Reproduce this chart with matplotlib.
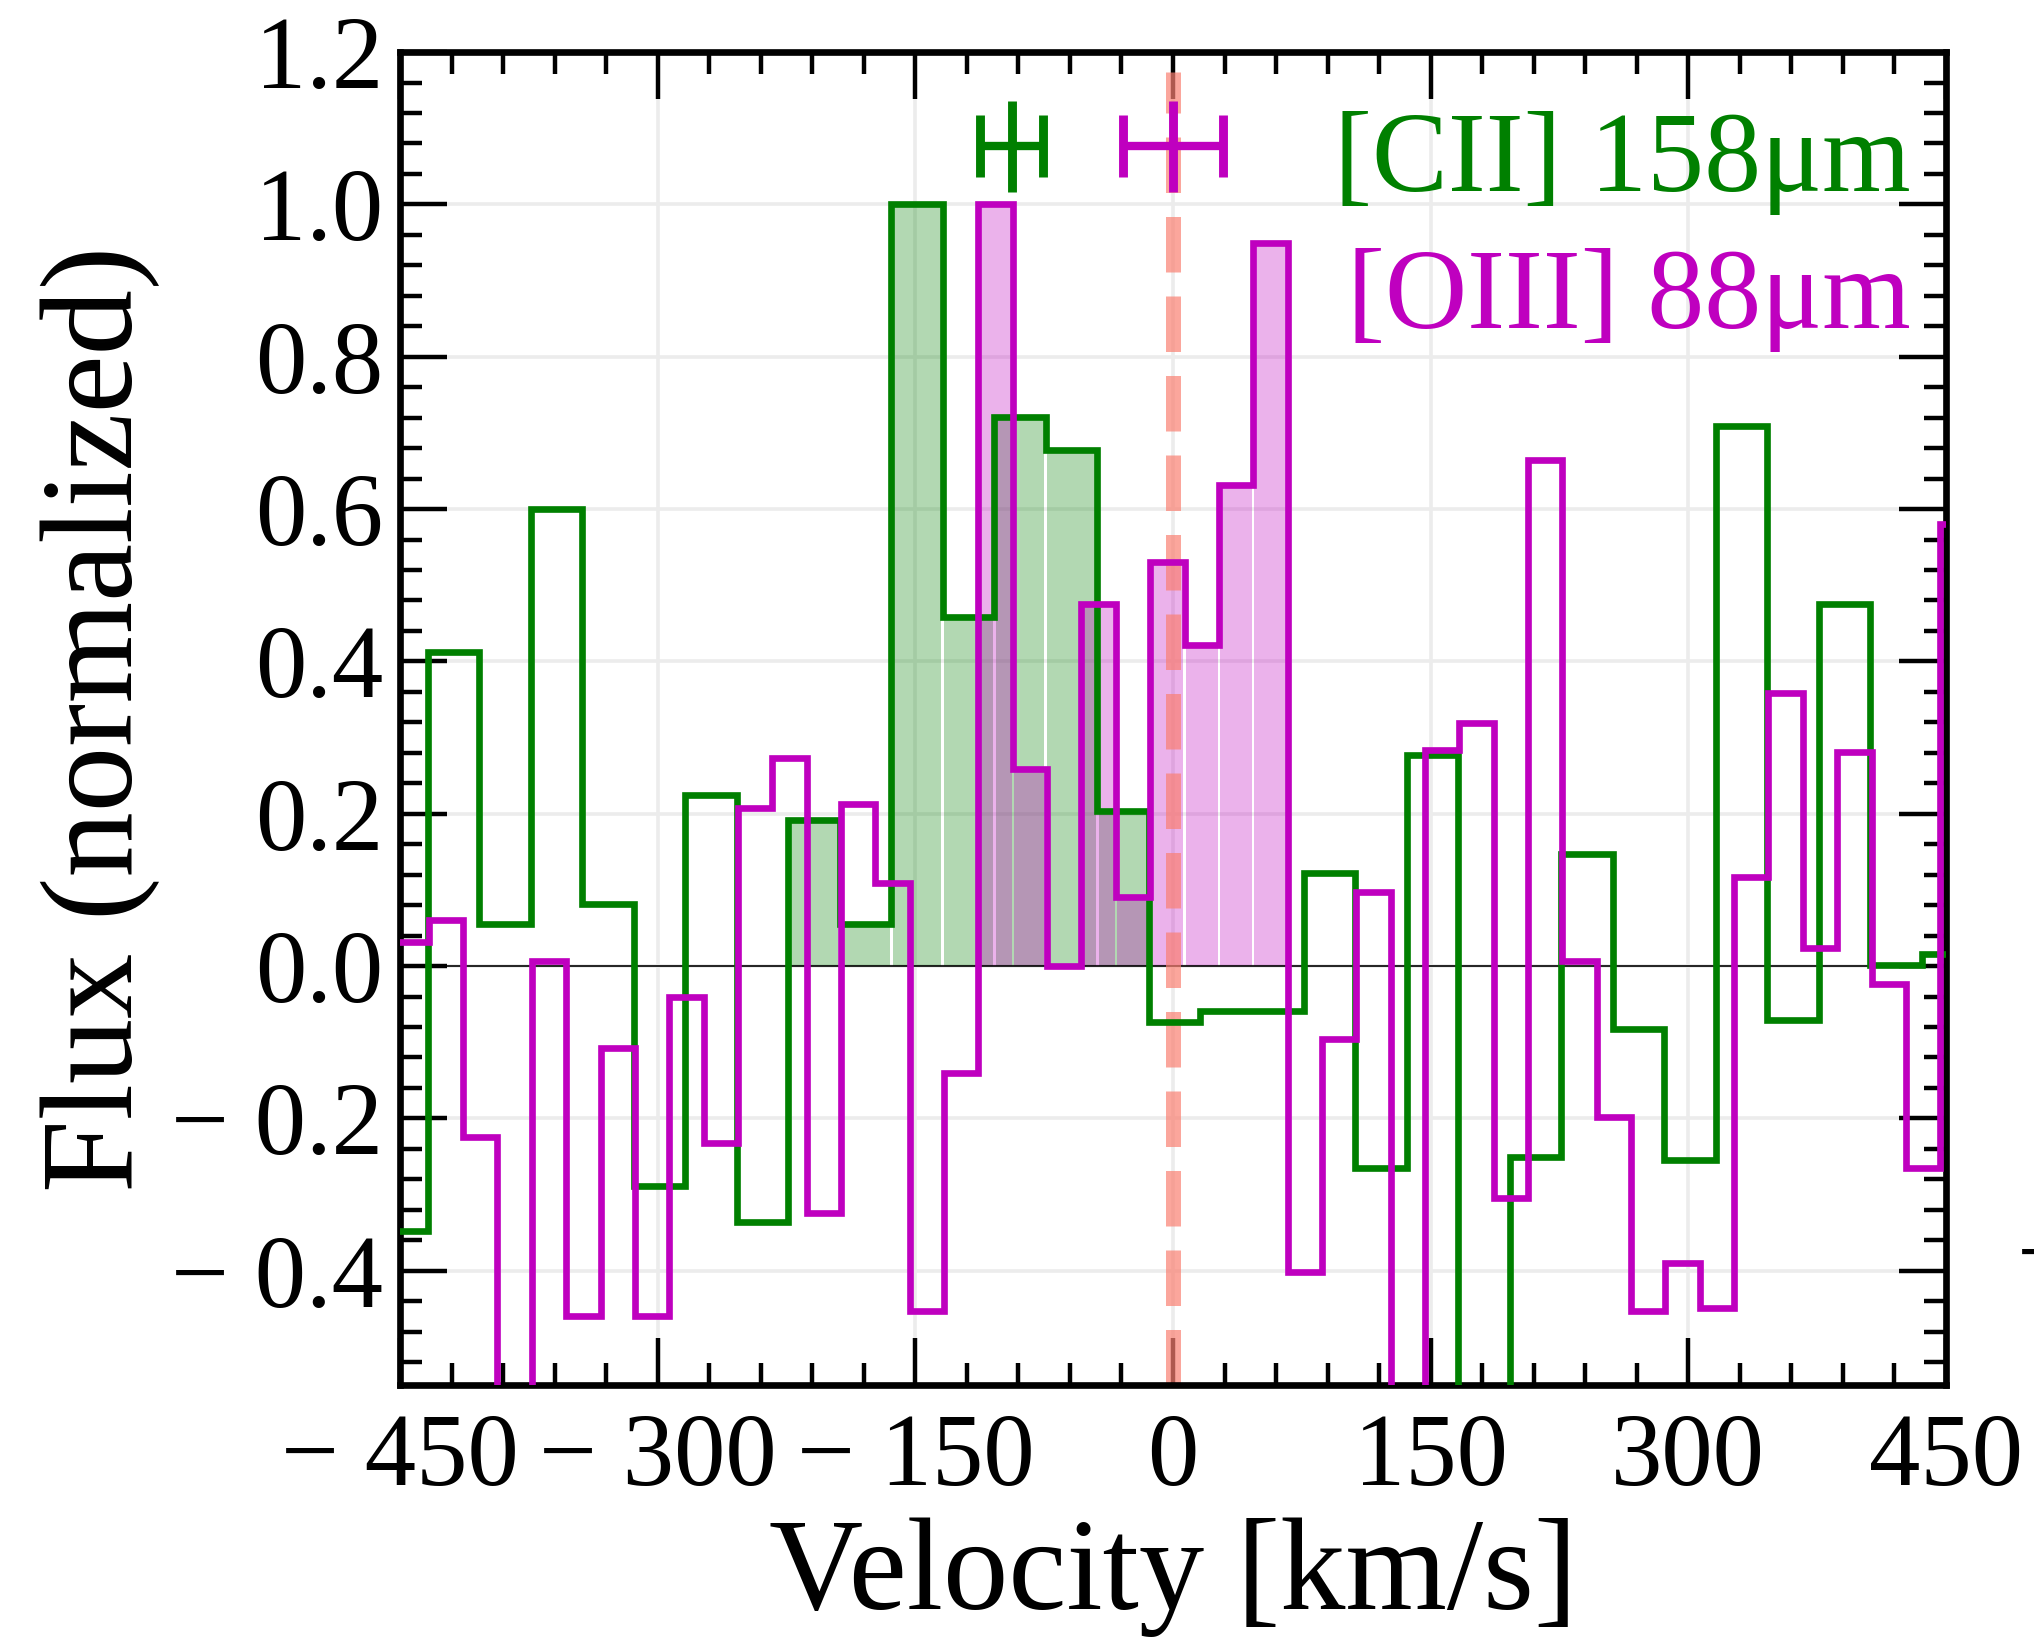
import matplotlib
matplotlib.use('Agg')
import matplotlib.pyplot as plt
from matplotlib.ticker import MultipleLocator, FuncFormatter
import numpy as np

plt.rcParams['font.family'] = ['Liberation Serif', 'DejaVu Serif']

# [CII] 158um spectrum, 30 km/s channels (channel centres, km/s)
cii_vel = [-449, -419, -389, -359, -329, -299, -269, -239, -209, -179,
           -149, -119, -89, -59, -29, 1, 31, 61, 91, 121,
           151, 181, 211, 241, 271, 301, 331, 361, 391, 421, 451]
cii_flux = [-0.348, 0.413, 0.055, 0.600, 0.082, -0.289, 0.225, -0.336, 0.192, 0.055,
            1.000, 0.458, 0.721, 0.678, 0.203, -0.074, -0.059, -0.059, 0.122, -0.265,
            0.277, -0.780, -0.251, 0.147, -0.083, -0.254, 0.709, -0.071, 0.475, 0.002, 0.016]

# [OIII] 88um spectrum, 20 km/s channels (channel centres, km/s)
oiii_vel = [-443.3, -423.3, -403.3, -383.3, -363.3, -343.3, -323.3, -303.3, -283.3, -263.3,
            -243.3, -223.3, -203.3, -183.3, -163.3, -143.3, -123.3, -103.3, -83.3, -63.3,
            -43.3, -23.3, -3.3, 16.7, 36.7, 56.7, 76.7, 96.7, 116.7, 136.7,
            156.7, 176.7, 196.7, 216.7, 236.7, 256.7, 276.7, 296.7, 316.7, 336.7,
            356.7, 376.7, 396.7, 416.7, 436.7, 456.7]
oiii_flux = [0.031, 0.060, -0.224, -0.800, 0.007, -0.459, -0.107, -0.459, -0.041, -0.232,
             0.207, 0.273, -0.324, 0.213, 0.109, -0.453, -0.140, 1.000, 0.259, 0.000,
             0.475, 0.091, 0.531, 0.422, 0.632, 0.949, -0.401, -0.096, 0.097, -0.750,
             0.284, 0.319, -0.304, 0.664, 0.007, -0.198, -0.453, -0.390, -0.449, 0.117,
             0.359, 0.024, 0.281, -0.023, -0.265, 0.580]

# velocity windows used for the shaded line emission
cii_window = (-225, -15)
oiii_window = (-115, 67)

# line centroids with uncertainties (velocity, flux-level for display)
cii_centroid = (-94, 1.076)
cii_centroid_err = (18.5, 0.06)
oiii_centroid = (0, 1.076)
oiii_centroid_err = (29, 0.06)

CII_COLOR = 'green'
OIII_COLOR = 'm'


def edges_from_centres(centres):
    c = np.asarray(centres, dtype=float)
    dv = c[1] - c[0]
    mids = (c[:-1] + c[1:]) / 2
    return np.concatenate([[c[0] - dv / 2], mids, [c[-1] + dv / 2]]), dv


def signed_fmt(decimals):
    def _fmt(v, pos):
        v = round(v, decimals)
        s = f'{abs(v):.{decimals}f}'
        return ('\u2212 ' + s) if v < 0 else s
    return FuncFormatter(_fmt)


def main():
    fig = plt.figure(figsize=(10.17, 8.26), dpi=200)
    ax = fig.add_axes([0.1967, 0.1616, 0.9567 - 0.1967, 0.9685 - 0.1616])

    for vel, flux, window, color in [(cii_vel, cii_flux, cii_window, CII_COLOR),
                                     (oiii_vel, oiii_flux, oiii_window, OIII_COLOR)]:
        edges, dv = edges_from_centres(vel)
        v = np.asarray(vel)
        f = np.asarray(flux)
        sel = (v > window[0]) & (v < window[1])
        ax.bar(v[sel], f[sel], width=0.94 * dv, color=color, alpha=0.3,
               linewidth=0, zorder=1)
        ax.stairs(f, edges, baseline=None, color=color, linewidth=2.4, zorder=3)

    ax.axhline(0, color='k', linewidth=0.6, zorder=2)
    ax.axvline(0, ymin=0, ymax=0.985, color='salmon', alpha=0.7, linestyle='--',
               linewidth=5.4, zorder=2)

    # centroid markers: capped horizontal bar, plain vertical bar
    for (x, y), (xe, ye), color in [(cii_centroid, cii_centroid_err, CII_COLOR),
                                    (oiii_centroid, oiii_centroid_err, OIII_COLOR)]:
        ax.errorbar(x, y, xerr=xe, fmt='none', ecolor=color,
                    elinewidth=3.0, capsize=11, capthick=3.2, zorder=4)
        ax.errorbar(x, y, yerr=ye, fmt='none', ecolor=color,
                    elinewidth=3.2, capsize=0, zorder=4)

    ax.text(0.977, 0.896, '[CII] 158\u03bcm', color=CII_COLOR, fontsize=41,
            ha='right', va='baseline', transform=ax.transAxes)
    ax.text(0.977, 0.793, '[OIII] 88\u03bcm', color=OIII_COLOR, fontsize=41,
            ha='right', va='baseline', transform=ax.transAxes)

    ax.set_xlim(-450, 450)
    ax.set_ylim(-0.55, 1.2)
    ax.xaxis.set_major_locator(MultipleLocator(150))
    ax.xaxis.set_minor_locator(MultipleLocator(30))
    ax.yaxis.set_major_locator(MultipleLocator(0.2))
    ax.yaxis.set_minor_locator(MultipleLocator(0.04))
    ax.xaxis.set_major_formatter(signed_fmt(0))
    ax.yaxis.set_major_formatter(signed_fmt(1))

    ax.tick_params(which='both', direction='in', top=True, right=True,
                   width=1.6, labelsize=37)
    ax.tick_params(which='major', length=17)
    ax.tick_params(which='minor', length=8)
    ax.tick_params(axis='x', pad=10)
    ax.tick_params(axis='y', pad=6)
    for sp in ax.spines.values():
        sp.set_linewidth(2.4)

    ax.grid(True, which='major', color='#ececec', linewidth=1.3)
    ax.set_axisbelow(True)

    ax.set_xlabel('Velocity [km/s]', fontsize=47)
    ax.set_ylabel('Flux (normalized)', fontsize=47)

    # clipped tick label of the neighbouring panel
    fig.text(0.9916, 0.2215, '\u2212', fontsize=37, ha='left', va='baseline')

    fig.savefig('out.png', dpi=200)


if __name__ == '__main__':
    main()
